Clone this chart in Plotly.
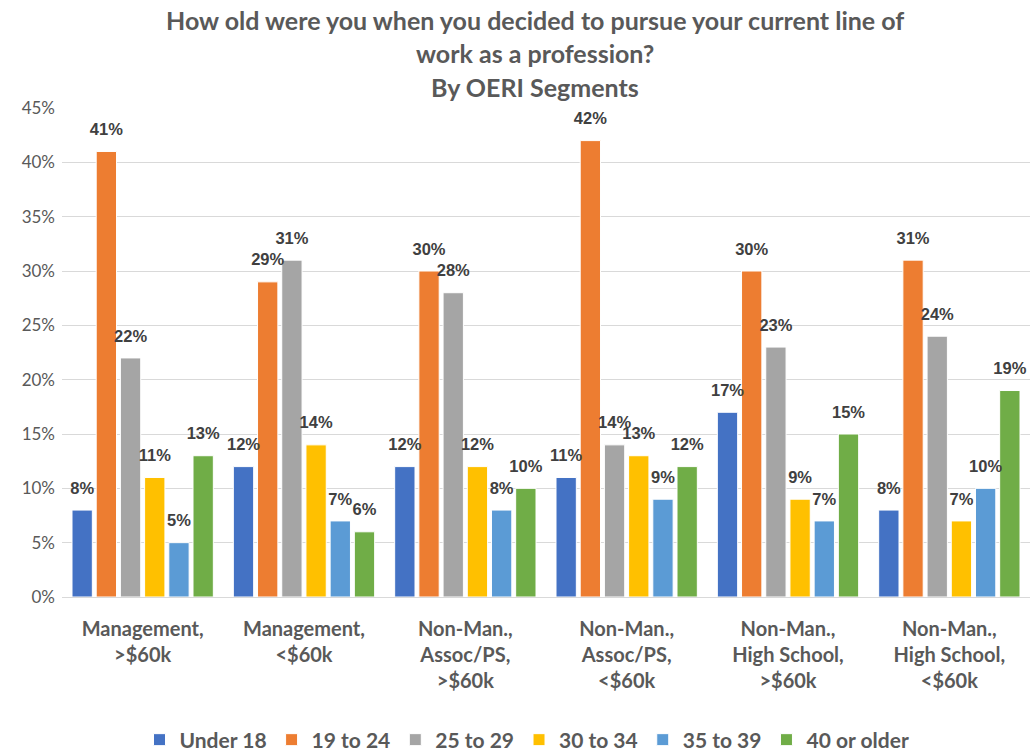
import plotly.graph_objects as go

# Survey segments (x-axis categories)
categories = [
    "Management,<br>>$60k",
    "Management,<br><$60k",
    "Non-Man.,<br>Assoc/PS,<br>>$60k",
    "Non-Man.,<br>Assoc/PS,<br><$60k",
    "Non-Man.,<br>High School,<br>>$60k",
    "Non-Man.,<br>High School,<br><$60k",
]

# Share of respondents by age at decision (%)
under_18 = [8, 12, 12, 11, 17, 8]
age_19_24 = [41, 29, 30, 42, 30, 31]
age_25_29 = [22, 31, 28, 14, 23, 24]
age_30_34 = [11, 14, 12, 13, 9, 7]
age_35_39 = [5, 7, 8, 9, 7, 10]
age_40_plus = [13, 6, 10, 12, 15, 19]

series_names = ["Under 18", "19 to 24", "25 to 29", "30 to 34", "35 to 39", "40 or older"]
series_values = [under_18, age_19_24, age_25_29, age_30_34, age_35_39, age_40_plus]
series_colors = ["#4472C4", "#ED7D31", "#A5A5A5", "#FFC000", "#5B9BD5", "#70AD47"]

y_ticks = [0, 5, 10, 15, 20, 25, 30, 35, 40, 45]
y_tick_labels = [f"{v}%" for v in y_ticks]

TEXT_GRAY = "#595959"
LABEL_GRAY = "#404040"
GAP = 0.1

fig = go.Figure()
for name, vals, color in zip(series_names, series_values, series_colors):
    fig.add_trace(go.Bar(
        name=name,
        x=categories,
        y=vals,
        legendgroup=name,
        marker=dict(color=color, line=dict(color="white", width=1)),
        hoverinfo="skip",
    ))

# Value labels: grouped text scatter traces aligned with the bars,
# with an invisible marker that lifts the label clear of the bar top
for name, vals in zip(series_names, series_values):
    fig.add_trace(go.Scatter(
        x=categories,
        y=vals,
        mode="markers+text",
        text=[f"{v}%" for v in vals],
        textposition="top center",
        marker=dict(size=18, opacity=0),
        textfont=dict(family="Liberation Sans", size=16.5, color=LABEL_GRAY, weight="bold"),
        showlegend=False,
        legendgroup=name,
        cliponaxis=False,
        hoverinfo="skip",
    ))

W, H = 1034, 753
m_l, m_r, m_t, m_b = 62, 4, 108, 156
plot_w = W - m_l - m_r
plot_h = H - m_t - m_b

fig.update_layout(
    width=W,
    height=H,
    barmode="group",
    bargap=GAP,
    bargroupgap=0.16,
    scattermode="group",
    scattergap=GAP,
    plot_bgcolor="white",
    paper_bgcolor="white",
    margin=dict(l=m_l, r=m_r, t=m_t, b=m_b, autoexpand=False),
    showlegend=True,
    legend=dict(
        orientation="h",
        x=(527 - m_l) / plot_w,
        xanchor="center",
        y=-(740 - (m_t + plot_h)) / plot_h,
        yanchor="middle",
        font=dict(family="Lato", size=21, color=TEXT_GRAY, weight="bold"),
        itemwidth=30,
        traceorder="normal",
    ),
    xaxis=dict(
        tickfont=dict(family="Lato", size=20, color=TEXT_GRAY, weight="bold"),
        showline=True,
        linecolor="#d9d9d9",
        ticks="",
        ticklabelstandoff=14,
        automargin=False,
    ),
    yaxis=dict(
        range=[0, 45],
        tickvals=y_ticks,
        ticktext=y_tick_labels,
        tickfont=dict(family="Lato", size=17, color=TEXT_GRAY),
        gridcolor="#d9d9d9",
        gridwidth=1,
        zeroline=False,
        showline=False,
        ticks="",
        ticklabelstandoff=6,
        automargin=False,
    ),
)

# Three-line chart title
title_lines = [
    "How old were you when you decided to pursue your current line of",
    "work as a profession?",
    "By OERI Segments",
]
title_y_px = [20, 53, 87]
for line, ypx in zip(title_lines, title_y_px):
    fig.add_annotation(
        text=line,
        xref="paper",
        yref="paper",
        x=(535 - m_l) / plot_w,
        y=1 + (m_t - ypx) / plot_h,
        xanchor="center",
        yanchor="middle",
        showarrow=False,
        font=dict(family="Lato", size=25, color=TEXT_GRAY, weight="bold"),
    )

fig.write_html("out.html")
